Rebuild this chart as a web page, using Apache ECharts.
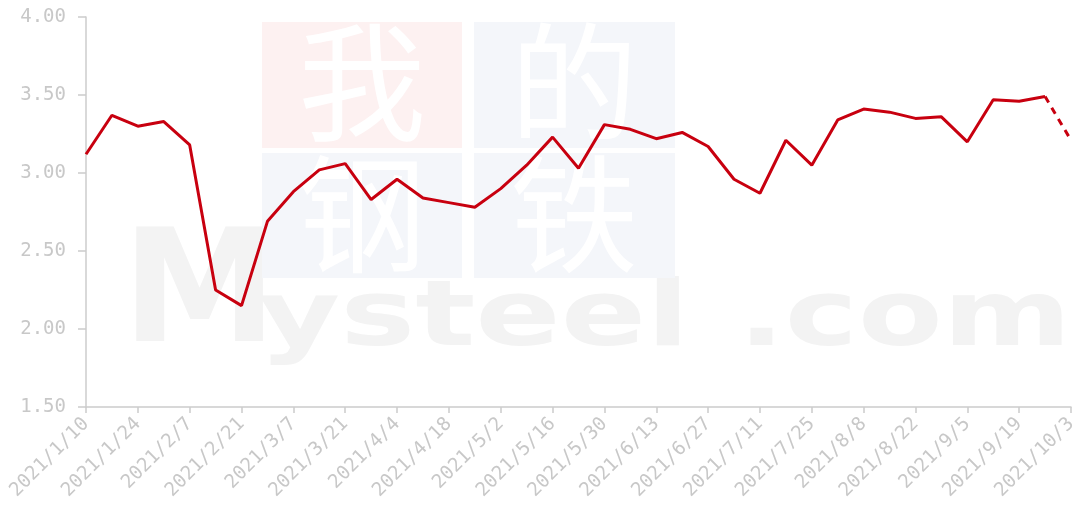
<!DOCTYPE html>
<html>
<head>
<meta charset="utf-8">
<script src="https://cdn.jsdelivr.net/npm/echarts@6/dist/echarts.min.js"></script>
<style>
  html, body { margin: 0; padding: 0; background: #fff; }
  #main { width: 1082px; height: 515px; }
</style>
</head>
<body>
<div id="main"></div>
<script>
// weekly dates, 2021/1/10 .. 2021/10/3
const dates = [
  "2021/1/10", "2021/1/17", "2021/1/24", "2021/1/31", "2021/2/7", "2021/2/14", "2021/2/21",
  "2021/2/28", "2021/3/7", "2021/3/14", "2021/3/21", "2021/3/28", "2021/4/4", "2021/4/11",
  "2021/4/18", "2021/4/25", "2021/5/2", "2021/5/9", "2021/5/16", "2021/5/23", "2021/5/30",
  "2021/6/6", "2021/6/13", "2021/6/20", "2021/6/27", "2021/7/4", "2021/7/11", "2021/7/18",
  "2021/7/25", "2021/8/1", "2021/8/8", "2021/8/15", "2021/8/22", "2021/8/29", "2021/9/5",
  "2021/9/12", "2021/9/19", "2021/9/26", "2021/10/3"
];

// actual values (up to 9/26)
const actual = [
  3.12, 3.37, 3.30, 3.33, 3.18, 2.25, 2.15, 2.69, 2.88, 3.02,
  3.06, 2.83, 2.96, 2.84, 2.81, 2.78, 2.90, 3.05, 3.23, 3.03,
  3.31, 3.28, 3.22, 3.26, 3.17, 2.96, 2.87, 3.21, 3.05, 3.34,
  3.41, 3.39, 3.35, 3.36, 3.20, 3.47, 3.46, 3.49
];

// forecast value for the last week
const forecast = 3.21;

const yMin = 1.5, yMax = 4.0, yStep = 0.5;
const lineColor = "#c8000f";
const axisGray = "#cccccc";

const solidData = actual.slice();
const dashData = dates.map(function (d, i) {
  if (i === actual.length - 1) return actual[i];
  if (i === dates.length - 1) return forecast;
  return null;
});

const chart = echarts.init(document.getElementById("main"));

const wmChar = "128px 'Noto Sans CJK SC'";
const wmGray = "#f3f3f3";

const option = {
  animation: false,
  backgroundColor: "#fff",
  grid: { left: 86, right: 11, top: 17, bottom: 108, containLabel: false },
  // background watermark
  graphic: [
    { type: "rect", silent: true, z: -10, shape: { x: 262, y: 22, width: 200, height: 126 }, style: { fill: "#fdf1f1" } },
    { type: "rect", silent: true, z: -10, shape: { x: 474, y: 22, width: 201, height: 126 }, style: { fill: "#f4f6fa" } },
    { type: "rect", silent: true, z: -10, shape: { x: 262, y: 153, width: 200, height: 125 }, style: { fill: "#f4f6fa" } },
    { type: "rect", silent: true, z: -10, shape: { x: 474, y: 153, width: 201, height: 125 }, style: { fill: "#f4f6fa" } },
    { type: "text", silent: true, z: -9, x: 298, y: 18, style: { text: "我", fill: "#fff", font: wmChar } },
    { type: "text", silent: true, z: -9, x: 510, y: 18, style: { text: "的", fill: "#fff", font: wmChar } },
    { type: "text", silent: true, z: -9, x: 298, y: 150, style: { text: "钢", fill: "#fff", font: wmChar } },
    { type: "text", silent: true, z: -9, x: 510, y: 150, style: { text: "铁", fill: "#fff", font: wmChar } },
    { type: "text", silent: true, z: -11, x: 122, y: 222, style: { text: "M", fill: wmGray, font: "bold 156px 'DejaVu Sans'" } },
    { type: "text", silent: true, z: -11, x: 258, y: 277, scaleX: 1.4, style: { text: "ysteel", fill: wmGray, font: "bold 90px 'DejaVu Sans'" } },
    { type: "text", silent: true, z: -11, x: 738, y: 277, scaleX: 1.37, style: { text: ".com", fill: wmGray, font: "bold 90px 'DejaVu Sans'" } }
  ],
  xAxis: {
    type: "category",
    data: dates,
    boundaryGap: false,
    axisLine: { lineStyle: { color: axisGray, width: 1.5 } },
    axisTick: { alignWithLabel: true, interval: 1, length: 6, lineStyle: { color: axisGray, width: 1.5 } },
    axisLabel: {
      interval: 1,
      rotate: 45,
      margin: 14,
      color: "#c8c8c8",
      fontSize: 19,
      fontFamily: "DejaVu Sans Mono"
    },
    splitLine: { show: false }
  },
  yAxis: {
    type: "value",
    min: yMin,
    max: yMax,
    interval: yStep,
    axisLine: { show: true, lineStyle: { color: axisGray, width: 1.5 } },
    axisTick: { show: true, length: 8, lineStyle: { color: axisGray, width: 1.5 } },
    axisLabel: {
      margin: 20,
      color: "#c8c8c8",
      fontSize: 19,
      fontFamily: "DejaVu Sans Mono",
      formatter: function (v) { return v.toFixed(2); }
    },
    splitLine: { show: false }
  },
  series: [
    {
      name: "actual",
      type: "line",
      data: solidData,
      symbol: "none",
      lineStyle: { color: lineColor, width: 3 },
      itemStyle: { color: lineColor }
    },
    {
      name: "forecast",
      type: "line",
      data: dashData,
      symbol: "none",
      lineStyle: { color: lineColor, width: 3, type: [7, 6] },
      itemStyle: { color: lineColor }
    }
  ]
};

chart.setOption(option);
</script>
</body>
</html>
